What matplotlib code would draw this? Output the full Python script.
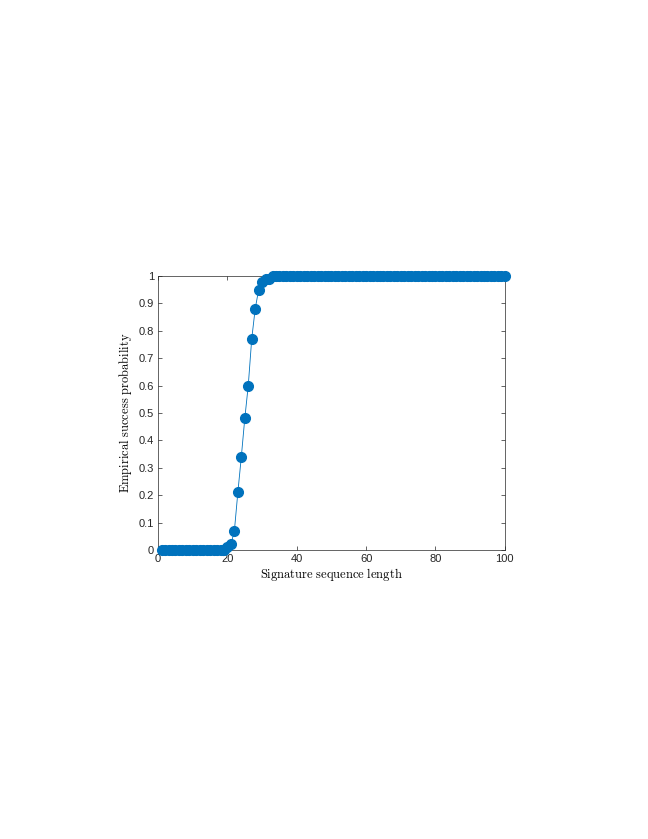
import numpy as np
import matplotlib
matplotlib.use("Agg")
import matplotlib.pyplot as plt

plt.rcParams["mathtext.fontset"] = "cm"

# signature sequence lengths and the measured success rate
lengths = np.arange(1, 101)
rise_values = [0.0, 0.01, 0.02, 0.07, 0.21, 0.34, 0.48, 0.60, 0.77, 0.88,
               0.95, 0.98, 0.99, 0.99]
success = [0.0] * 18 + rise_values + [1.0] * (100 - 18 - len(rise_values))

x_ticks = [0, 20, 40, 60, 80, 100]
y_ticks = [0, 0.1, 0.2, 0.3, 0.4, 0.5, 0.6, 0.7, 0.8, 0.9, 1]
y_ticklabels = ["0", "0.1", "0.2", "0.3", "0.4", "0.5", "0.6", "0.7", "0.8", "0.9", "1"]

fig = plt.figure(figsize=(6.48, 8.39), dpi=100)
ax = fig.add_axes([0.244, 0.3445, 0.535, 0.3265])

ax.plot(lengths, success, color="#0072BD", linewidth=0.6,
        marker="o", markersize=7, markerfacecolor="#0072BD",
        markeredgecolor="#0072BD", clip_on=False, zorder=3)

ax.set_xlim(0, 100)
ax.set_ylim(0, 1)
ax.set_xticks(x_ticks)
ax.set_yticks(y_ticks)
ax.set_yticklabels(y_ticklabels)

for spine in ax.spines.values():
    spine.set_color("#262626")
    spine.set_linewidth(0.5)
ax.tick_params(direction="in", length=3, width=0.5, top=True, right=True,
               labelsize=8, colors="#262626", pad=3)
for lab in ax.get_xticklabels() + ax.get_yticklabels():
    lab.set_fontfamily("Liberation Sans")

ax.set_xlabel(r"$\mathrm{Signature\ sequence\ length}$", fontsize=9, labelpad=1)
ax.set_ylabel(r"$\mathrm{Empirical\ success\ probability}$", fontsize=9, labelpad=3)

fig.savefig("out.png", dpi=100)
